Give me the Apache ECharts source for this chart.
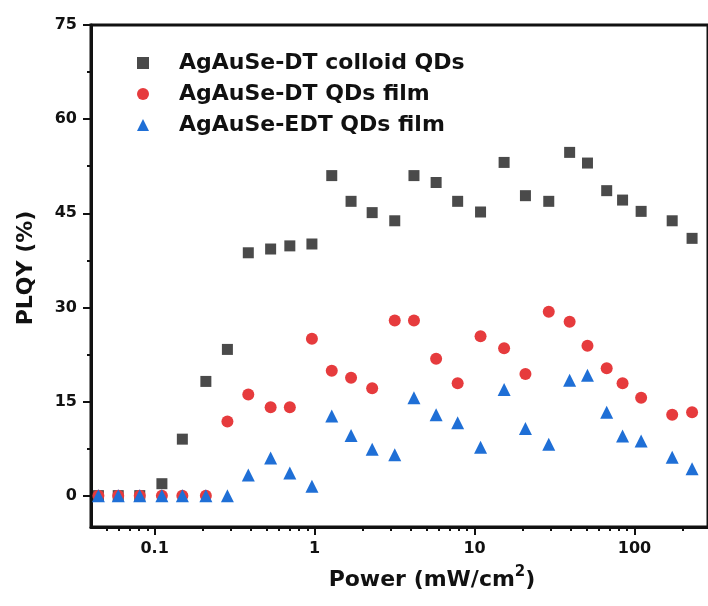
<!DOCTYPE html>
<html>
<head>
<meta charset="utf-8">
<script src="https://cdn.jsdelivr.net/npm/echarts@6/dist/echarts.min.js"></script>
<style>
  html, body { margin: 0; padding: 0; background: #fff; }
  #chart { width: 708px; height: 606px; }
</style>
</head>
<body>
<div id="chart"></div>
<script>
// excitation power (mW/cm2), shared by the three series
const power = [0.0445, 0.0592, 0.0807, 0.111, 0.149, 0.209, 0.285, 0.385, 0.531, 0.70,
    0.962, 1.28, 1.69, 2.29, 3.17, 4.18, 5.75, 7.84, 10.9, 15.3,
    20.8, 29.1, 39.3, 50.8, 67.0, 84.2, 110, 172, 229];
// PLQY (%)
const colloidDT = [0, 0, 0, 1.9, 9.0, 18.2, 23.3, 38.7, 39.3, 39.8,
    40.1, 51.0, 46.9, 45.1, 43.8, 51.0, 49.9, 46.9, 45.2, 53.1,
    47.8, 46.9, 54.7, 53.0, 48.6, 47.1, 45.3, 43.8, 41.0];
const filmDT = [0, 0, 0, 0, 0, 0, 11.8, 16.1, 14.1, 14.1,
    25.0, 19.9, 18.8, 17.1, 27.9, 27.9, 21.8, 17.9, 25.4, 23.5,
    19.4, 29.3, 27.7, 23.9, 20.3, 17.9, 15.6, 12.9, 13.3];
const filmEDT = [0, 0, 0, 0, 0, 0, 0, 3.3, 6.0, 3.6,
    1.5, 12.7, 9.6, 7.4, 6.5, 15.6, 12.9, 11.6, 7.7, 16.9,
    10.7, 8.2, 18.4, 19.2, 13.3, 9.5, 8.7, 6.1, 4.3];

const seriesNames = ['AgAuSe-DT colloid QDs', 'AgAuSe-DT QDs film', 'AgAuSe-EDT QDs film'];
const xMajor = [0.1, 1, 10, 100];
const xMinor = [0.05, 0.06, 0.07, 0.08, 0.09, 0.2, 0.3, 0.4, 0.5, 0.6, 0.7, 0.8, 0.9,
    2, 3, 4, 5, 6, 7, 8, 9, 20, 30, 40, 50, 60, 70, 80, 90, 200];
const yMajor = [0, 15, 30, 45, 60, 75];
const yMinor = [7.5, 22.5, 37.5, 52.5, 67.5];

const font = 'DejaVu Sans';
const ink = '#111';

function pairs(ys) {
    return power.map(function (x, i) { return [x, ys[i]]; });
}

const chart = echarts.init(document.getElementById('chart'), null, {renderer: 'canvas'});

// plot is cut off on the right in the original figure
const xBase = {
    type: 'log', logBase: 10, min: 0.04, max: 288, gridIndex: 0, position: 'bottom',
    splitLine: {show: false}
};
const yBase = {
    type: 'value', min: -5, max: 75, gridIndex: 0, position: 'left',
    splitLine: {show: false}
};

chart.setOption({
    animation: false,
    backgroundColor: '#fff',
    grid: {
        left: 91, top: 25, right: -4, bottom: 79,
        show: true, borderColor: ink, borderWidth: 3, backgroundColor: 'transparent'
    },
    legend: {
        orient: 'vertical', left: 132, top: 47,
        itemWidth: 12, itemHeight: 12, itemGap: 9,
        data: seriesNames,
        textStyle: {fontFamily: font, fontWeight: 'bold', fontSize: 22, color: ink, padding: [0, 0, 0, 25]}
    },
    xAxis: [
        Object.assign({}, xBase, {
            name: 'Power (mW/cm{sup|2})',
            nameLocation: 'middle', nameGap: 38,
            nameTextStyle: {
                fontFamily: font, fontWeight: 'bold', fontSize: 22, color: ink,
                padding: [0, 0, 0, 65], lineHeight: 30,
                rich: {sup: {fontFamily: font, fontWeight: 'bold', fontSize: 15, color: ink, verticalAlign: 'top', lineHeight: 30}}
            },
            axisLine: {onZero: false, lineStyle: {color: ink, width: 3}},
            axisTick: {show: true, inside: false, length: 8, lineStyle: {color: ink, width: 2}, customValues: xMajor},
            axisLabel: {
                customValues: xMajor, margin: 14,
                fontFamily: font, fontWeight: 'bold', fontSize: 16, color: ink,
                formatter: function (v) { return String(v); }
            }
        }),
        Object.assign({}, xBase, {
            axisLine: {show: false, onZero: false},
            axisTick: {show: true, inside: false, length: 4, lineStyle: {color: ink, width: 2}, customValues: xMinor},
            axisLabel: {show: false}
        })
    ],
    yAxis: [
        Object.assign({}, yBase, {
            name: 'PLQY (%)',
            nameLocation: 'middle', nameGap: 54, nameRotate: 90,
            nameTextStyle: {fontFamily: font, fontWeight: 'bold', fontSize: 22, color: ink, padding: [0, 0, 0, 16]},
            axisLine: {show: true, onZero: false, lineStyle: {color: ink, width: 3}},
            axisTick: {show: true, inside: false, length: 8, lineStyle: {color: ink, width: 2}, customValues: yMajor},
            axisLabel: {
                customValues: yMajor, margin: 14,
                fontFamily: font, fontWeight: 'bold', fontSize: 16, color: ink
            }
        }),
        Object.assign({}, yBase, {
            axisLine: {show: false, onZero: false},
            axisTick: {show: true, inside: false, length: 4, lineStyle: {color: ink, width: 2}, customValues: yMinor},
            axisLabel: {show: false}
        })
    ],
    series: [
        {
            name: seriesNames[0], type: 'scatter', symbol: 'rect', symbolSize: 11,
            itemStyle: {color: '#4a4a4a', opacity: 1},
            data: pairs(colloidDT)
        },
        {
            name: seriesNames[1], type: 'scatter', symbol: 'circle', symbolSize: 12,
            itemStyle: {color: '#e63b3d', opacity: 1},
            data: pairs(filmDT)
        },
        {
            name: seriesNames[2], type: 'scatter', symbol: 'triangle', symbolSize: 13,
            itemStyle: {color: '#1f6fd6', opacity: 1},
            data: pairs(filmEDT)
        }
    ]
});
</script>
</body>
</html>
